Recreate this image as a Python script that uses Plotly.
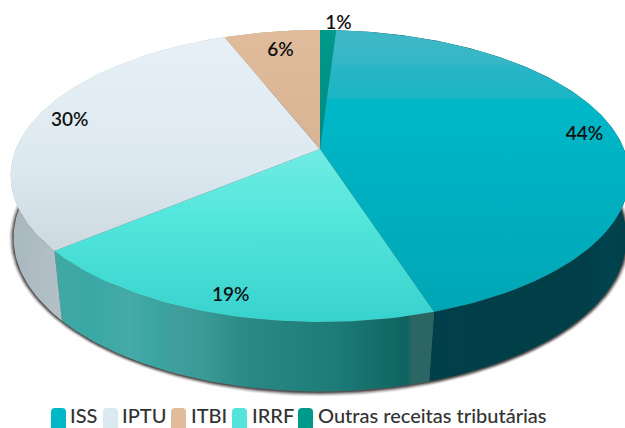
import math
import plotly.graph_objects as go

# ---- data (clockwise from 12 o'clock) ----
categories = ["Outras receitas tributárias", "ISS", "IRRF", "IPTU", "ITBI"]
values = [1, 44, 19, 30, 6]
legend_order = ["ISS", "IPTU", "ITBI", "IRRF", "Outras receitas tributárias"]

# ---- style (gradient stops listed from bottom to top of each face) ----
top_colors = {
    "ISS": [[0, "#00a6b5"], [0.75, "#00b8c8"], [0.76, "#1cb6c6"], [0.87, "#28b6c6"], [0.88, "#34b6c6"], [1, "#40b8c6"]],
    "IPTU": [[0, "#cbd9e0"], [0.4, "#dde9f0"], [1, "#e6f0f6"]],
    "ITBI": [[0, "#d8b494"], [1, "#e0bc9c"]],
    "IRRF": [[0, "#38d2cd"], [0.6, "#52e6dc"], [1, "#72ebe2"]],
    "Outras receitas tributárias": [[0, "#00897d"], [1, "#009a8c"]],
}
wall_colors = {
    "ISS": [[0, "#00404a"], [0.85, "#003f48"], [0.93, "#00444f"], [1, "#003f48"]],
    "IPTU": [[0, "#a9b7bf"], [0.45, "#bcc8cf"], [1, "#a7b4bb"]],
    "IRRF": [[0, "#40a8a5"], [0.1, "#3aa8a4"], [0.2, "#45aaa8"], [0.27, "#3aa5a0"], [0.32, "#409e9c"],
             [0.39, "#3a9a96"], [0.5, "#2a8a85"], [0.75, "#1c7b77"], [0.93, "#0f6360"], [0.94, "#2b6664"], [1, "#2b6664"]],
    "ITBI": [[0, "#b09070"], [1, "#b09070"]],
    "Outras receitas tributárias": [[0, "#006a60"], [1, "#006a60"]],
}
swatch_colors = {
    "ISS": "#00b8c8", "IPTU": "#dbe9f1", "ITBI": "#e0bc9c", "IRRF": "#55e4dc",
    "Outras receitas tributárias": "#009a8c",
}
label_radius = [1.08, 0.89, 0.90, 0.89, 0.83]
label_nudge = [1.75, 0, 0, 0, 0]   # degrees

W, H = 625, 428
CX, CY, A, B, K = 320, 149, 304, 141, 0.185      # top rim of the disc
CY2, A2, B2, K2 = 215, 303, 150, 0.15            # lower rim of the disc


def project(theta_deg, r=1.0):
    t = math.radians(theta_deg)
    d = 1 + K * r * math.cos(t)
    return CX + A * r * math.sin(t) / d, CY - B * r * math.cos(t) / d


def lower(theta_deg):
    t = math.radians(theta_deg)
    d = 1 + K2 * math.cos(t)
    return CX + A2 * math.sin(t) / d, CY2 - B2 * math.cos(t) / d


def angles(a, b):
    n = max(2, int(abs(b - a) / 1.0) + 1)
    return [a + (b - a) * i / (n - 1) for i in range(n)]


total = sum(values)
spans, acc = [], 0
for v in values:
    spans.append((acc / total * 360, (acc + v) / total * 360))
    acc += v

fig = go.Figure()


def poly(pts, **kw):
    xs = [p[0] for p in pts] + [pts[0][0]]
    ys = [p[1] for p in pts] + [pts[0][1]]
    fig.add_trace(go.Scatter(x=xs, y=ys, mode="lines", line=dict(width=0), fill="toself",
                             hoverinfo="skip", showlegend=False, **kw))


# shadow under the disc
rim = [lower(a) for a in range(0, 360, 2)]
for grow, alpha in [(6, 0.07), (5, 0.10), (4, 0.14), (3, 0.2), (2, 0.3), (1, 0.4)]:
    pts = []
    for x, y in rim:
        dx, dy = x - CX, y - 250
        n = math.hypot(dx, dy)
        pts.append((x + dx / n * grow * 0.75, y + dy / n * grow * 0.75 + 0.5))
    poly(pts, fillcolor=f"rgba(35,25,25,{alpha})")

# side walls
for name, (a, b) in zip(categories, spans):
    ang = angles(a, b)
    poly([project(t) for t in ang] + [lower(t) for t in ang[::-1]], name=name + " wall",
         fillgradient=dict(type="horizontal", colorscale=wall_colors[name]))

# top faces
for name, (a, b) in zip(categories, spans):
    poly([(CX, CY)] + [project(t) for t in angles(a, b)], name=name,
         fillgradient=dict(type="vertical", colorscale=top_colors[name]))

# percentage labels
lx, ly = [], []
for (a, b), r, nudge in zip(spans, label_radius, label_nudge):
    x, y = project((a + b) / 2 + nudge, r)
    lx.append(x + 1.5)
    ly.append(y + 2)
fig.add_trace(go.Scatter(x=lx, y=ly, mode="text",
                         text=[f"{round(v / total * 100)}%" for v in values],
                         textposition="middle center",
                         textfont=dict(family="Lato", size=19, color="#111111", weight=600),
                         hoverinfo="skip", showlegend=False))

# legend
swatch_x = [51, 103, 171, 232, 298]
text_x = [68.5, 120.5, 189.5, 250.5, 316.5]
shapes = []
for name, sx in zip(legend_order, swatch_x):
    x0, x1, y0, y1, q = sx, sx + 15, 408, 430, 4
    shapes.append(dict(type="path", xref="x", yref="y", line=dict(width=0), fillcolor=swatch_colors[name],
                       path=f"M{x0},{y0+q} Q{x0},{y0} {x0+q},{y0} L{x1-q},{y0} Q{x1},{y0} {x1},{y0+q} "
                            f"L{x1},{y1} L{x0},{y1} Z"))
for name, tx in zip(legend_order, text_x):
    fig.add_annotation(x=tx, y=414.5, xref="x", yref="y", text=name, showarrow=False, xanchor="left",
                       yanchor="middle", borderpad=0,
                       font=dict(family="Lato", size=20, color="#333333", weight=500))

fig.update_layout(
    width=W, height=H, margin=dict(l=0, r=0, t=0, b=0), paper_bgcolor="white", plot_bgcolor="white",
    xaxis=dict(range=[0, W], visible=False, fixedrange=True),
    yaxis=dict(range=[H, 0], visible=False, fixedrange=True),
    shapes=shapes, showlegend=False,
)
fig.write_html("out.html", config={"displayModeBar": False},
               post_script="document.body.style.margin='0';document.documentElement.style.overflow='hidden';")
